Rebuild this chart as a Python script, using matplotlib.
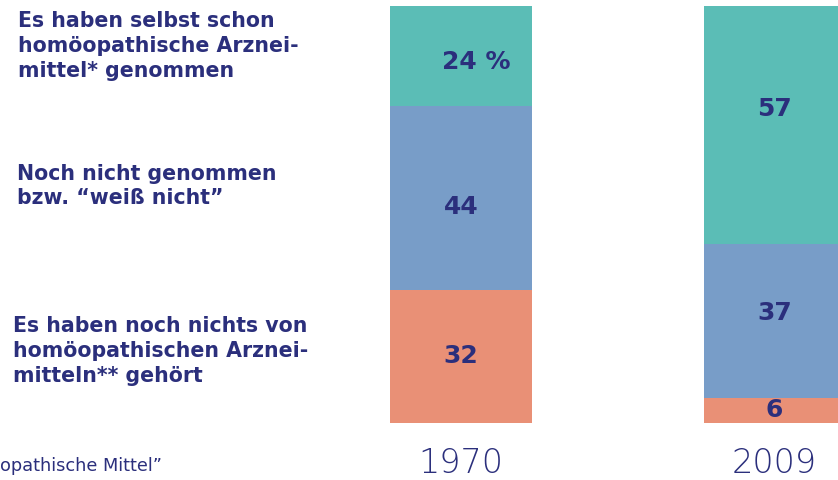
import matplotlib.pyplot as plt

years = ["1970", "2009"]
taken = [24, 57]
not_taken = [44, 37]
never_heard = [32, 6]

labels = ["Es haben selbst schon\nhomöopathische Arznei-\nmittel* genommen",
          "Noch nicht genommen\nbzw. “weiß nicht”",
          "Es haben noch nichts von\nhomöopathischen Arznei-\nmitteln** gehört"]

c_teal = "#5bbdb6"
c_blue = "#789dc8"
c_orange = "#e99076"
navy = "#2b2f7c"

W, H = 838, 480
fig = plt.figure(figsize=(W / 100, H / 100), dpi=100)
ax = fig.add_axes([0, 0, 1, 1])

x = [0, 1]
w = 0.45
ax.bar(x, never_heard, w, color=c_orange)
bottom2 = never_heard
ax.bar(x, not_taken, w, bottom=bottom2, color=c_blue)
bottom3 = [a + b for a, b in zip(never_heard, not_taken)]
ax.bar(x, taken, w, bottom=bottom3, color=c_teal)

ax.set_xlim(-1.4705, 1.2026)
ax.set_ylim(-13.67, 101.44)
ax.axis("off")

vfont = dict(color=navy, fontsize=18, fontweight="bold", ha="center", va="center",
             family="DejaVu Sans", textcoords="offset points")
# small vertical nudges (px) as in the original layout
nudge_top = [-6, 16]
nudge_mid = [-9, 8]
for i in range(2):
    ax.annotate(str(never_heard[i]), (x[i], never_heard[i] / 2), xytext=(0, 0), **vfont)
    ax.annotate(str(not_taken[i]), (x[i], bottom2[i] + not_taken[i] / 2),
                xytext=(0, nudge_mid[i] * 0.72), **vfont)
    t = str(taken[i]) + (" %" if i == 0 else "")
    dx = 15 if i == 0 else 0
    ax.annotate(t, (x[i], bottom3[i] + taken[i] / 2),
                xytext=(dx * 0.72, nudge_top[i] * 0.72), **vfont)
    ax.text(x[i], -9.6, years[i], color=navy, fontsize=24, ha="center", va="center",
            family="DejaVu Sans", fontweight="light")

# left category labels (pixel positions)
lpos = [(18, 46), (17, 186), (13, 351)]
for (px, py), lab in zip(lpos, labels):
    fig.text(px / W, 1 - py / H, lab, color=navy, fontsize=14.8, fontweight="bold",
             ha="left", va="center", linespacing=1.3, family="DejaVu Sans")

fig.text(0, 1 - 466 / H, "opathische Mittel”", color=navy, fontsize=12.8,
         ha="left", va="center", family="DejaVu Sans")

fig.savefig("out.png", dpi=100)
